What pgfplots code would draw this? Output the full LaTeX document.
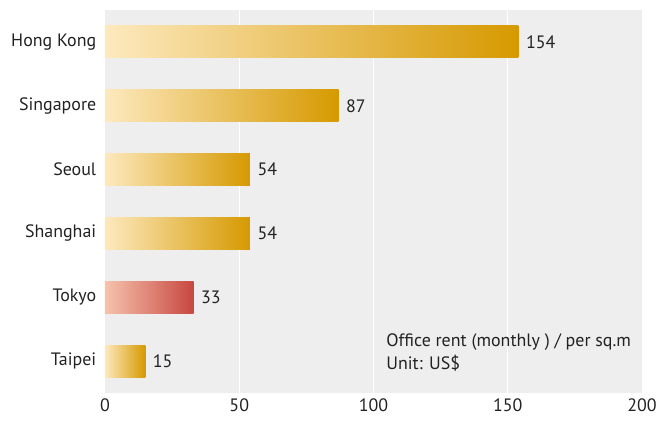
\documentclass[border=0pt]{standalone}
\usepackage{pgfplots}
\pgfplotsset{compat=1.18}
\usepackage{fontspec}
\setmainfont{PT Sans}
\definecolor{bg}{HTML}{EEEEEE}
\definecolor{goldL}{HTML}{FDE9BE}
\definecolor{goldD}{HTML}{D69900}
\definecolor{redL}{HTML}{F6C2AC}
\definecolor{redD}{HTML}{C84741}
\definecolor{txt}{HTML}{222222}
\begin{document}
\begin{tikzpicture}
\path[use as bounding box] (-105bp,-28bp) rectangle (554bp,393bp);
\begin{axis}[
  at={(0,0)}, anchor=south west,
  scale only axis, width=537bp, height=383bp,
  xmin=0, xmax=200, ymin=-0.5, ymax=5.5,
  xtick={0,50,100,150,200},
  ytick={0,1,2,3,4,5},
  yticklabels={Taipei,Tokyo,Shanghai,Seoul,Singapore,Hong Kong},
  extra x ticks={50,100,150}, extra x tick labels={},
  extra x tick style={grid=major, major grid style={white, line width=1.3pt}},
  axis background/.style={fill=bg},
  axis line style={draw=none},
  tick style={draw=none},
  ticklabel style={font=\fontsize{18}{21}\selectfont, text=txt},
  /pgf/number format/assume math mode=true,
  xticklabel style={yshift=-2bp},
  yticklabel style={xshift=-1bp},
  xbar, bar width=32bp, bar shift=0pt,
  nodes near coords,
  every node near coord/.append style={anchor=west, xshift=4bp, font=\fontsize{18}{21}\selectfont, text=txt},
  gold/.style={draw=none, left color=goldL, right color=goldD},
]
\addplot[gold] coordinates {(154,5)};
\addplot[gold] coordinates {(87,4)};
\addplot[gold] coordinates {(54,3)};
\addplot[gold] coordinates {(54,2)};
\addplot[draw=none, left color=redL, right color=redD] coordinates {(33,1)};
\addplot[gold] coordinates {(15,0)};
\node[anchor=base west, font=\fontsize{18}{21}\selectfont, text=txt] at (axis cs:103.5,0.234) {Office rent (monthly ) / per sq.m};
\node[anchor=base west, font=\fontsize{18}{21}\selectfont, text=txt] at (axis cs:103.5,-0.125) {Unit: US\$};
\end{axis}
\end{tikzpicture}
\end{document}
